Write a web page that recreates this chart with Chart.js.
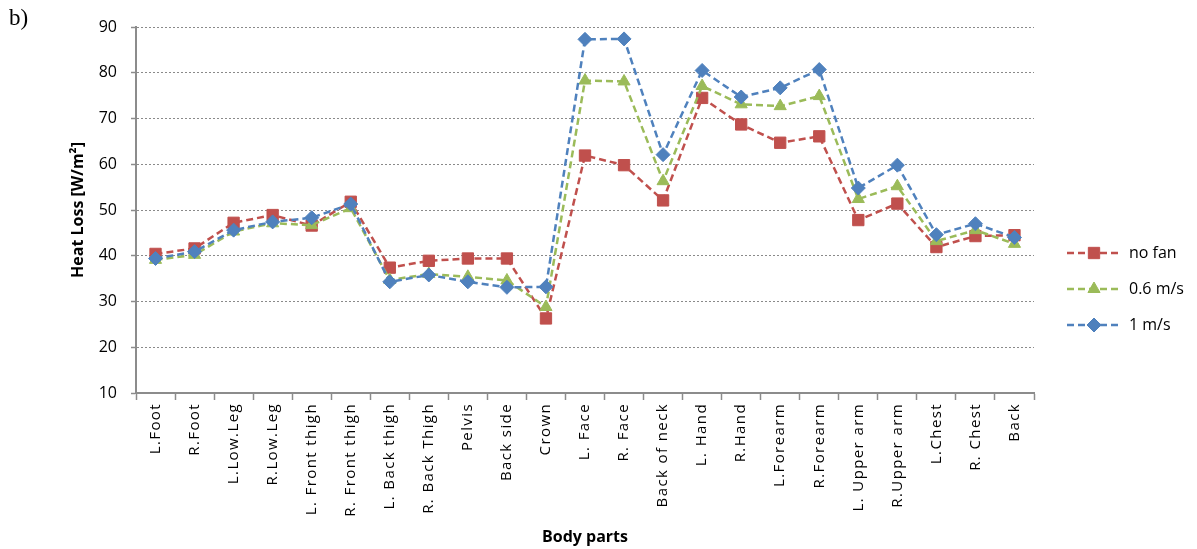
<!DOCTYPE html>
<html>
<head>
<meta charset="utf-8">
<script src="https://cdn.jsdelivr.net/npm/chart.js@4/dist/chart.umd.min.js"></script>
<style>
  body { margin: 0; background: #fff; }
  #wrap { position: relative; width: 1197px; height: 549px; }
  #tag { position: absolute; left: 9px; top: 5px; font: 23px "Liberation Serif", serif; color: #000; }
</style>
</head>
<body>
<div id="wrap">
  <canvas id="lineChartHeat"></canvas>
  <div id="tag">b)</div>
</div>
<script>
// body parts on the x axis
var bodyParts = ["L.Foot", "R.Foot", "L.Low.Leg", "R.Low.Leg", "L. Front thigh", "R. Front thigh",
  "L. Back thigh", "R. Back Thigh", "Pelvis", "Back side", "Crown", "L. Face", "R. Face",
  "Back of neck", "L. Hand", "R.Hand", "L.Forearm", "R.Forearm", "L. Upper arm", "R.Upper arm",
  "L.Chest", "R. Chest", "Back"];

// heat loss W/m2
var noFan = [40.4, 41.6, 47.2, 48.9, 46.6, 51.8, 37.4, 38.9, 39.4, 39.4, 26.3, 61.9, 59.8,
  52.1, 74.5, 68.7, 64.7, 66.1, 47.8, 51.4, 41.9, 44.3, 44.5];
var fan06 = [39.1, 40.2, 45.3, 47.1, 46.7, 50.4, 34.7, 36.0, 35.4, 34.6, 28.8, 78.3, 78.1,
  56.3, 77.1, 73.1, 72.7, 74.9, 52.4, 55.2, 43.2, 45.6, 42.6];
var fan1 = [39.4, 40.9, 45.6, 47.4, 48.3, 51.3, 34.3, 35.8, 34.3, 33.1, 33.2, 87.3, 87.4,
  62.1, 80.5, 74.7, 76.7, 80.7, 54.8, 59.8, 44.6, 47.0, 44.0];

var yMin = 10, yMax = 90, yStep = 10;

var axisGrey = "#8c8c8c";

function series(label, data, color, style, radius, order) {
  return {
    label: label,
    data: data,
    borderColor: color,
    backgroundColor: color,
    borderWidth: 2.5,
    borderDash: [7, 4],
    pointStyle: style,
    pointRadius: radius,
    pointHoverRadius: radius,
    pointBackgroundColor: color,
    pointBorderColor: color,
    pointBorderWidth: 1,
    fill: false,
    tension: 0,
    order: order
  };
}

// legend: dashed line + marker, like the excel one
var lineLegend = {
  id: "lineLegend",
  afterDraw: function (chart) {
    var ctx = chart.ctx;
    chart.data.datasets.forEach(function (ds, i) {
      var y = 253 + i * 36;
      ctx.save();
      ctx.strokeStyle = ds.borderColor;
      ctx.lineWidth = ds.borderWidth;
      ctx.setLineDash(ds.borderDash);
      ctx.beginPath();
      ctx.moveTo(1067, y);
      ctx.lineTo(1122, y);
      ctx.stroke();
      ctx.setLineDash([]);
      ctx.fillStyle = ds.pointBackgroundColor;
      ctx.strokeStyle = ds.pointBorderColor;
      ctx.lineWidth = 1;
      Chart.helpers.drawPoint(ctx, { pointStyle: ds.pointStyle, radius: ds.pointRadius, rotation: 0, borderWidth: 1 }, 1094, y);
      ctx.fillStyle = "#000";
      ctx.font = '16px "Open Sans"';
      ctx.textBaseline = "middle";
      ctx.textAlign = "left";
      ctx.fillText(ds.label, 1129, y);
      ctx.restore();
    });
  }
};

var ctxL = document.getElementById("lineChartHeat").getContext("2d");
var myLineChart = new Chart(ctxL, {
  type: "line",
  data: {
    labels: bodyParts,
    datasets: [
      series("no fan", noFan, "#C0504D", "rect", 8, 3),
      series("0.6 m/s", fan06, "#9BBB59", "triangle", 7, 2),
      series("1 m/s", fan1, "#4F81BD", "rectRot", 7, 1)
    ]
  },
  options: {
    responsive: true,
    maintainAspectRatio: false,
    animation: false,
    layout: { padding: { top: 27, right: 163, left: 0, bottom: 0 } },
    plugins: {
      legend: { display: false },
      tooltip: { enabled: false }
    },
    scales: {
      x: {
        offset: true,
        grid: { offset: true, drawOnChartArea: false, drawTicks: true, tickLength: 7, tickColor: axisGrey, tickWidth: 1.5 },
        border: { color: axisGrey, width: 2 },
        ticks: {
          autoSkip: false, minRotation: 90, maxRotation: 90, padding: 3,
          color: "#000", font: { family: "Open Sans", size: 15 }
        },
        title: {
          display: true, text: "Body parts", color: "#000",
          font: { family: "Open Sans", size: 16, weight: "bold" },
          padding: { top: 0, bottom: 2.4 }
        },
        afterFit: function (scale) {
          scale.height = 549 - 393;
          // the category labels are spaced out in the original
          if (!scale._spaced) {
            var drawLabels = scale.drawLabels;
            scale.drawLabels = function (area) {
              this.ctx.save();
              this.ctx.letterSpacing = "1.4px";
              drawLabels.call(this, area);
              this.ctx.restore();
            };
            scale._spaced = true;
          }
        }
      },
      y: {
        min: yMin,
        max: yMax,
        ticks: { stepSize: yStep, padding: 14, color: "#000", font: { family: "Open Sans", size: 16 } },
        grid: { color: "#8a8a8a", lineWidth: 1, tickLength: 5, tickColor: axisGrey, tickWidth: 1.5 },
        border: { color: axisGrey, width: 2, dash: [2, 2] },
        title: {
          display: true, text: "Heat Loss [W/m²]", color: "#000",
          font: { family: "Open Sans", size: 16, weight: "bold" },
          padding: { top: 68.4, bottom: 0 }
        },
        afterFit: function (scale) { scale.width = 136; }
      }
    }
  },
  plugins: [lineLegend]
});
</script>
</body>
</html>
